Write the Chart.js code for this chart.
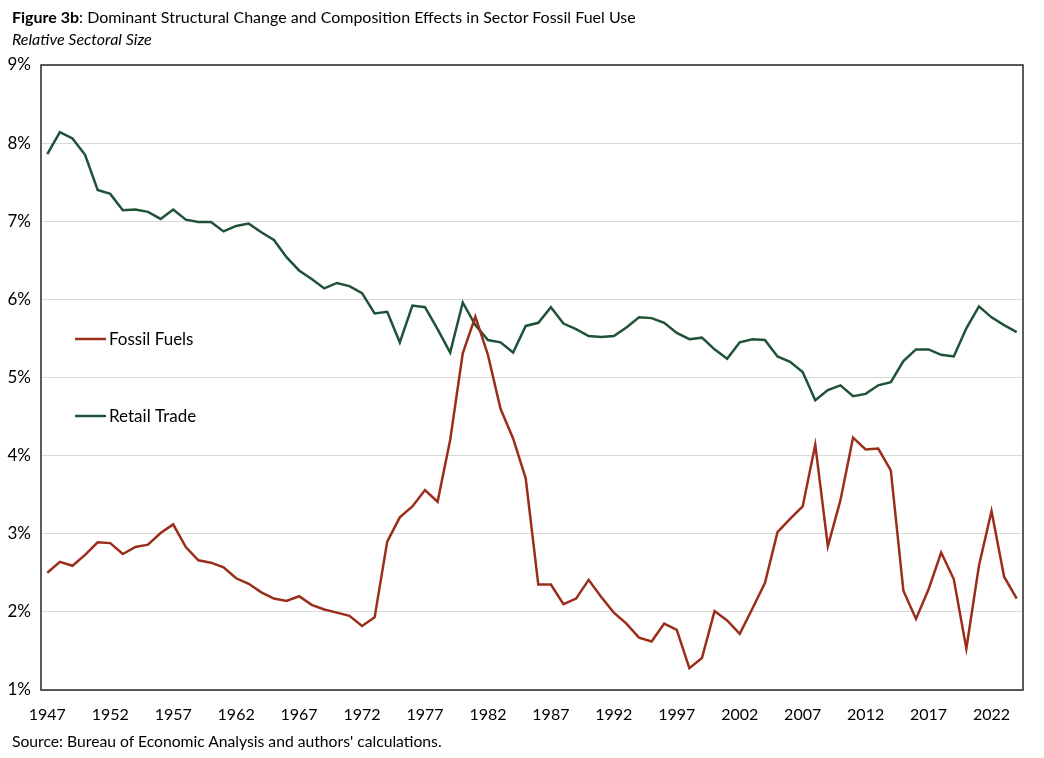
<!DOCTYPE html>
<html lang="en">
<head>
<meta charset="UTF-8">
<title>Figure 3b</title>
<script src="https://cdn.jsdelivr.net/npm/chart.js"></script>
<style>
    body {
        margin: 0;
        background: #fff;
        font-family: Lato, "Open Sans", sans-serif;
        color: #000;
    }
    .wrap {
        position: relative;
        width: 1044px;
        height: 758px;
    }
    .title {
        position: absolute;
        left: 12px;
        top: 7px;
        font-size: 16px;
    }
    .subtitle {
        position: absolute;
        left: 12px;
        top: 29px;
        font-size: 16px;
        font-style: italic;
    }
    .source {
        position: absolute;
        left: 12px;
        top: 732px;
        font-size: 15.7px;
    }
    canvas { position: absolute; left: 0; top: 0; }
</style>
</head>
<body>
<div class="wrap">
    <canvas id="chart" width="1044" height="758"></canvas>
    <div class="title"><b>Figure 3b</b>: Dominant Structural Change and Composition Effects in Sector Fossil Fuel Use</div>
    <div class="subtitle">Relative Sectoral Size</div>
    <div class="source">Source: Bureau of Economic Analysis and authors' calculations.</div>
</div>

<script>
    // years 1947 - 2024
    const years = [];
    for (let y = 1947; y <= 2024; y++) years.push(String(y));

    // values in percent
    const fossilFuels = [
        2.50, 2.64, 2.59, 2.73, 2.89, 2.88, 2.74, 2.83, 2.86, 3.01,
        3.12, 2.83, 2.66, 2.63, 2.57, 2.43, 2.36, 2.25, 2.17, 2.14,
        2.20, 2.09, 2.03, 1.99, 1.95, 1.82, 1.93, 2.90, 3.21, 3.35,
        3.56, 3.41, 4.20, 5.31, 5.78, 5.29, 4.60, 4.22, 3.71, 2.35,
        2.35, 2.10, 2.17, 2.41, 2.19, 1.99, 1.85, 1.67, 1.62, 1.85,
        1.77, 1.28, 1.41, 2.01, 1.89, 1.72, 2.04, 2.37, 3.02, 3.19,
        3.35, 4.14, 2.84, 3.43, 4.23, 4.08, 4.09, 3.81, 2.27, 1.91,
        2.29, 2.76, 2.42, 1.53, 2.59, 3.29, 2.45, 2.17
    ];
    const retailTrade = [
        7.86, 8.14, 8.06, 7.85, 7.40, 7.35, 7.14, 7.15, 7.12, 7.03,
        7.15, 7.02, 6.99, 6.99, 6.87, 6.94, 6.97, 6.86, 6.76, 6.54,
        6.37, 6.26, 6.14, 6.21, 6.17, 6.08, 5.82, 5.84, 5.45, 5.92,
        5.90, 5.62, 5.32, 5.96, 5.67, 5.48, 5.45, 5.32, 5.66, 5.70,
        5.90, 5.69, 5.62, 5.53, 5.52, 5.53, 5.64, 5.77, 5.76, 5.70,
        5.57, 5.49, 5.51, 5.36, 5.24, 5.45, 5.49, 5.48, 5.27, 5.20,
        5.07, 4.71, 4.84, 4.90, 4.76, 4.79, 4.90, 4.94, 5.21, 5.36,
        5.36, 5.29, 5.27, 5.63, 5.91, 5.77, 5.67, 5.58
    ];
    const yTicks = [1, 2, 3, 4, 5, 6, 7, 8, 9];

    const fuelColor = '#9a2e1a';
    const retailColor = '#1f5237';

    // legend drawn inside the plot, left side
    const insideLegend = {
        id: 'insideLegend',
        afterDatasetsDraw(chart) {
            const ctx = chart.ctx;
            const rows = [339, 416];
            ctx.save();
            ctx.font = '17px Lato, sans-serif';
            ctx.textBaseline = 'middle';
            chart.data.datasets.forEach((ds, i) => {
                ctx.strokeStyle = ds.borderColor;
                ctx.lineWidth = 2.5;
                ctx.beginPath();
                ctx.moveTo(75, rows[i]);
                ctx.lineTo(106, rows[i]);
                ctx.stroke();
                ctx.fillStyle = '#000';
                ctx.fillText(ds.label, 109, rows[i] + 1);
            });
            ctx.restore();
        }
    };

    // dark frame round the plot area
    const frame = {
        id: 'frame',
        afterDraw(chart) {
            const a = chart.chartArea;
            const ctx = chart.ctx;
            ctx.save();
            ctx.strokeStyle = '#262626';
            ctx.lineWidth = 1.5;
            ctx.strokeRect(a.left, a.top, a.right - a.left, a.bottom - a.top);
            ctx.restore();
        }
    };

    new Chart(document.getElementById('chart'), {
        type: 'line',
        data: {
            labels: years,
            datasets: [
                {
                    label: 'Fossil Fuels',
                    data: fossilFuels,
                    borderColor: fuelColor,
                    borderWidth: 2.5,
                    pointRadius: 0,
                    tension: 0
                },
                {
                    label: 'Retail Trade',
                    data: retailTrade,
                    borderColor: retailColor,
                    borderWidth: 2.5,
                    pointRadius: 0,
                    tension: 0
                }
            ]
        },
        options: {
            responsive: false,
            animation: false,
            layout: { padding: { left: 0, top: 65, right: 21, bottom: 0 } },
            plugins: {
                legend: { display: false },
                tooltip: { enabled: false }
            },
            scales: {
                x: {
                    offset: true,
                    grid: { display: false, drawTicks: false },
                    border: { display: false },
                    ticks: {
                        autoSkip: false,
                        maxRotation: 0,
                        padding: 15,
                        color: '#000',
                        font: { family: 'Lato', size: 16 },
                        callback: function (v, i) {
                            return i % 5 === 0 ? years[i] : '';
                        }
                    },
                    afterFit(scale) { scale.height = 68; }
                },
                y: {
                    min: 1,
                    max: 9,
                    afterBuildTicks(scale) {
                        scale.ticks = yTicks.map(v => ({ value: v }));
                    },
                    grid: { color: '#d9d9d9', lineWidth: 1, drawTicks: false },
                    border: { display: false },
                    ticks: {
                        padding: 10,
                        color: '#000',
                        font: { family: 'Lato', size: 17 },
                        callback: v => v + '%'
                    },
                    afterFit(scale) { scale.width = 41; }
                }
            }
        },
        plugins: [insideLegend, frame]
    });
</script>
</body>
</html>
